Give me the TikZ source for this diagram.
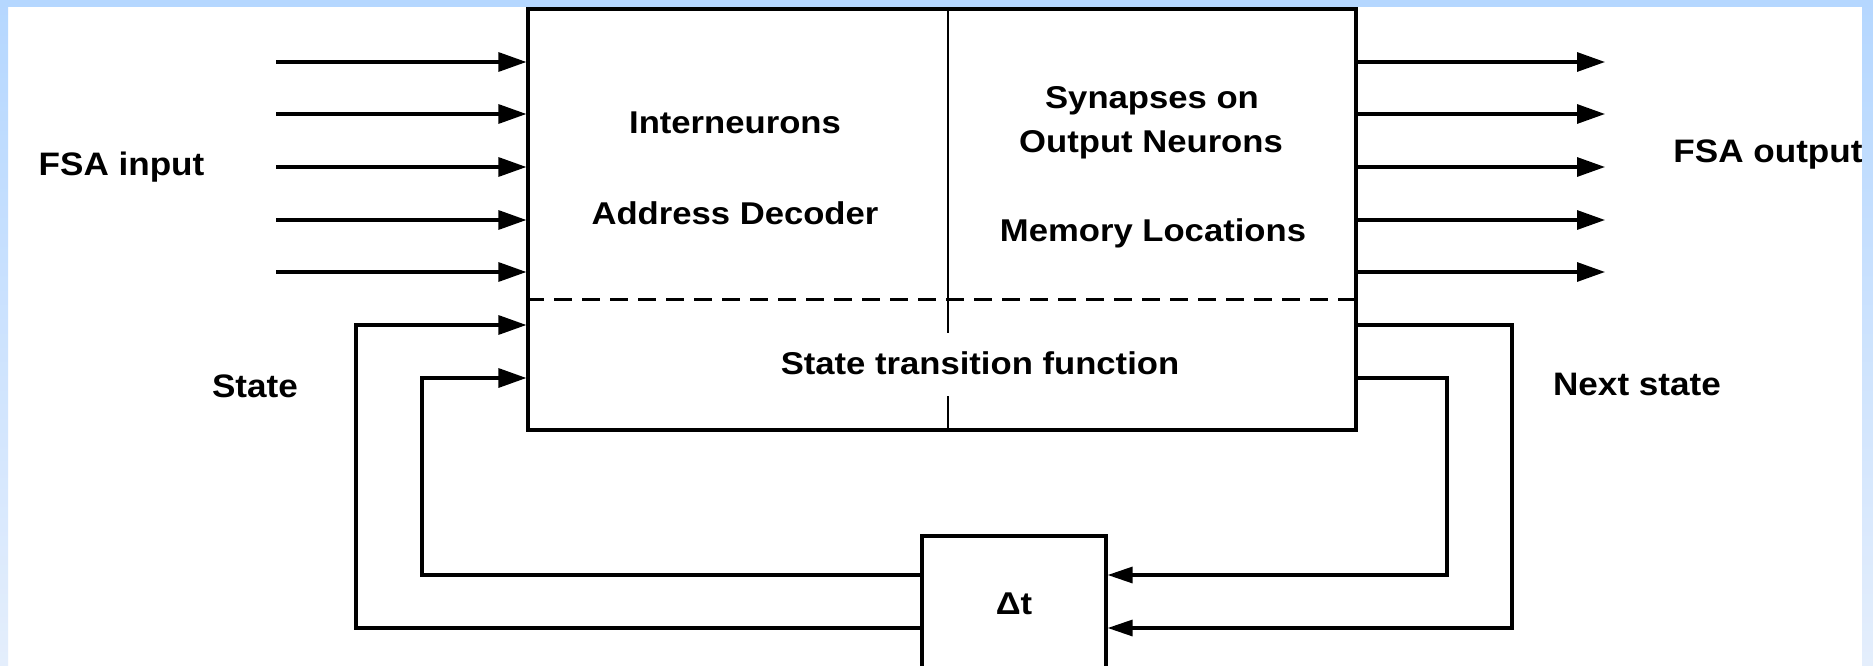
\documentclass[tikz,border=0pt]{standalone}
\usepackage{fontspec}
\setmainfont{Liberation Sans}[FakeStretch=1.08]
\newfontfamily\blockfont{Liberation Sans}[FakeStretch=1.1]
\usetikzlibrary{arrows.meta}
\definecolor{bandtop}{RGB}{181,215,255}
\definecolor{bandbot}{RGB}{228,238,252}
\begin{document}
\begin{tikzpicture}[x=1pt,y=-1pt,
  font=\fontsize{32.5}{38}\selectfont\bfseries,
  lbl/.style={anchor=base, inner sep=0pt},
  inlbl/.style={anchor=base, inner sep=0pt, font=\blockfont\fontsize{31.5}{36}\selectfont\bfseries},
  blockbox/.style={draw, line width=3.2pt, inner sep=0pt, fill=white},
  arr/.style={line width=3.2pt, -{Triangle[length=28pt,width=19pt]}},
  sarr/.style={line width=3.2pt, -{Triangle[length=25pt,width=16pt]}},
  divline/.style={line width=2.2pt},
  dashline/.style={line width=3pt, dash pattern=on 18pt off 10pt}]
\useasboundingbox (0,0) rectangle (1873,666);

% page background with the blue frame
\fill[white] (0,0) rectangle (1873,666);
\shade[top color=bandtop, bottom color=bandbot] (0,0) rectangle (8,666);
\shade[top color=bandtop, bottom color=bandbot] (1862,0) rectangle (1873,666);
\fill[bandtop] (0,0) rectangle (1873,7);

% main block and delay element
\node[blockbox, minimum width=828pt, minimum height=421pt] (fsa) at (942,219.5) {};
\node[blockbox, minimum width=184pt, minimum height=136pt,
      font=\blockfont\fontsize{31.5}{36}\selectfont\bfseries] (delay) at (1014,604) {Δt};

% inner partition of the main block
\coordinate (d) at (948,0);
\draw[divline] (d |- fsa.north) -- (948,333);
\draw[divline] (948,396) -- (d |- fsa.south);
\coordinate (dl) at (0,299);
\draw[dashline] (dl -| fsa.west) -- (dl -| fsa.east);

% input and output lines
\foreach \y [count=\i] in {62,114,167,220,272} {
  \coordinate (in\i) at (276,\y);
  \coordinate (out\i) at (1605,\y);
  \draw[arr] (in\i) -- (in\i -| fsa.west);
  \draw[arr] (out\i -| fsa.east) -- (out\i);
}

% state feedback loops through the delay
\coordinate (sa) at (356,325);
\coordinate (sb) at (422,378);
\coordinate (ta) at (356,628);
\coordinate (tb) at (422,575);
\coordinate (na) at (1512,325);
\coordinate (nb) at (1447,378);
\coordinate (ra) at (1512,628);
\coordinate (rb) at (1447,575);
\draw[arr] (ta -| delay.west) -- (ta) -- (sa) -- (sa -| fsa.west);
\draw[arr] (tb -| delay.west) -- (tb) -- (sb) -- (sb -| fsa.west);
\draw[sarr] (na -| fsa.east) -- (na) -- (ra) -- (ra -| delay.east);
\draw[sarr] (nb -| fsa.east) -- (nb) -- (rb) -- (rb -| delay.east);

% labels
\node[lbl] (tin) at (121.5,175) {FSA input};
\node[lbl] (tout) at (1768,162) {FSA output};
\node[lbl] (tstate) at (255,397) {State};
\node[lbl] (tnext) at (1637,395) {Next state};
\node[inlbl] (tinter) at (735,134) {Interneurons};
\node[inlbl] (taddr) at (735,224) {Address Decoder};
\node[inlbl] (tsyn) at (1152,109) {Synapses on};
\node[inlbl] (toutn) at (1151,153) {Output Neurons};
\node[inlbl] (tmem) at (1153,241) {Memory Locations};
\node[inlbl] (ttrans) at (980,374) {State transition function};
\end{tikzpicture}
\end{document}
